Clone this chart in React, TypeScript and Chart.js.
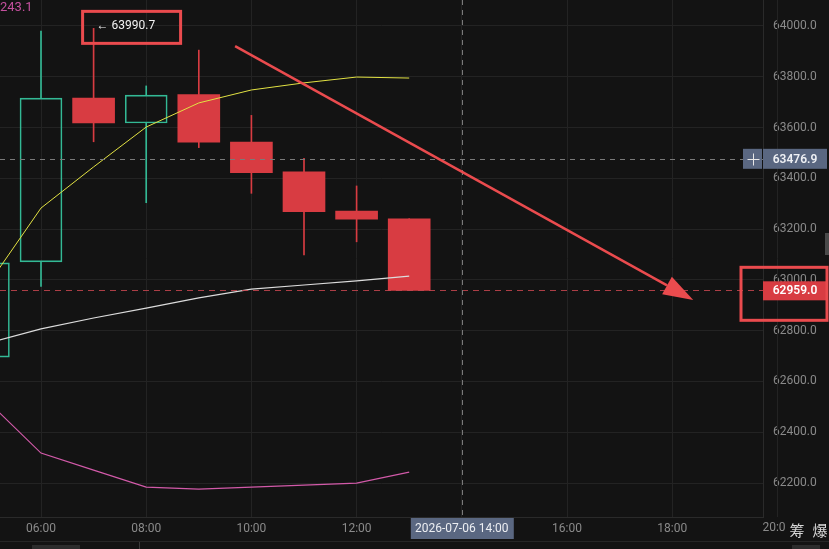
import React, { useEffect, useRef } from "react";
import { Chart, registerables } from "chart.js";

Chart.register(...registerables);

// ---- data ----
const hours = [5, 6, 7, 8, 9, 10, 11, 12, 13];
const opens = [62696, 63071, 63716, 63618, 63730, 63543, 63426, 63271, 63241];
const highs = [63090, 63980, 63990.7, 63764, 63905, 63648, 63479, 63370, 63241];
const lows = [62640, 62974, 63544, 63304, 63521, 63341, 63098, 63150, 62959];
const closes = [63067, 63716, 63618, 63728, 63542, 63422, 63269, 63239, 62959];
const maYellow = [62984, 63283, 63445, 63602, 63697, 63748, 63776, 63799, 63795];
const maWhite = [62752, 62807, 62850, 62889, 62929, 62964, 62980, 62996, 63015];
const maPink = [62519, 62318, 62251, 62184, 62176, 62184, 62192, 62200, 62243.1];
const xTickHours = [6, 8, 10, 12, 14, 16, 18, 20];
const yTicks = [62200, 62400, 62600, 62800, 63000, 63200, 63400, 63600, 63800, 64000];
const crosshairHour = 14;
const crosshairPrice = 63476.9;
const crosshairDate = "2026-07-06 14:00";
const lastPrice = 62959.0;
const highLabel = 63990.7;
const highHour = 7;
const arrowStart = [9.69, 63921];
const arrowEnd = [18.4, 62921];
const topLeftLabel = "243.1";
const cornerLabels = ["筹", "爆"];
const xRange = [5.2205, 19.7262];
const yRange = [62066.2, 64102.4];

// ---- styles ----
const BG = "#131313";
const GRID = "#232323";
const TICK = "#8a8a8a";
const UP = "#33b995";
const DOWN = "#d83c42";
const MARK = "#ea4b4e";
const BOX = "#5a6781";
const FONT = "Roboto, 'Noto Sans', sans-serif";

const fmtHour = (h: number) => String(h).padStart(2, "0") + ":00";

export default function App() {
  const ref = useRef<HTMLCanvasElement | null>(null);

  useEffect(() => {
    document.body.style.margin = "0";
    document.body.style.background = BG;
    const canvas = ref.current!;
    const up = closes.map((c, i) => c >= opens[i]);
    const candleColor = up.map((u) => (u ? UP : DOWN));

    const wickUpper = hours.map((h, i) => ({ x: h, y: [Math.max(opens[i], closes[i]), highs[i]] }));
    const wickLower = hours.map((h, i) => ({ x: h, y: [lows[i], Math.min(opens[i], closes[i])] }));
    const bodies = hours.map((h, i) => ({ x: h, y: [opens[i], closes[i]] }));
    const line = (arr: number[]) => hours.map((h, i) => ({ x: h, y: arr[i] }));

    const overlay = {
      id: "overlay",
      beforeDraw(chart: any) {
        const c = chart.ctx;
        c.save();
        c.fillStyle = BG;
        c.fillRect(0, 0, chart.width, chart.height);
        c.restore();
      },
      afterDatasetsDraw(chart: any) {
        const c = chart.ctx;
        const xs = chart.scales.x;
        const ys = chart.scales.y;
        const area = chart.chartArea;
        c.save();
        // extra gridline beyond the plot (20:00)
        xTickHours.filter((h) => h > xRange[1]).forEach((h) => {
          const px = Math.round(xs.getPixelForValue(h)) + 0.5;
          c.strokeStyle = GRID;
          c.lineWidth = 1;
          c.beginPath();
          c.moveTo(px, 0);
          c.lineTo(px, area.bottom);
          c.stroke();
        });
        // last price dashed line
        const yc = Math.round(ys.getPixelForValue(lastPrice)) + 0.5;
        c.setLineDash([6, 5]);
        c.strokeStyle = "rgba(200,70,80,0.85)";
        c.lineWidth = 1;
        c.beginPath();
        c.moveTo(0, yc);
        c.lineTo(area.right, yc);
        c.stroke();
        // crosshair
        const yh = Math.round(ys.getPixelForValue(crosshairPrice)) + 0.5;
        const xh = Math.round(xs.getPixelForValue(crosshairHour)) + 0.5;
        c.strokeStyle = "#7a7a7a";
        c.setLineDash([5, 5]);
        c.beginPath();
        c.moveTo(0, yh);
        c.lineTo(area.right, yh);
        c.moveTo(xh, 0);
        c.lineTo(xh, area.bottom);
        c.stroke();
        c.setLineDash([]);

        // top-left indicator value
        c.fillStyle = "#c4509e";
        c.font = `13px ${FONT}`;
        c.textAlign = "left";
        c.textBaseline = "middle";
        c.fillText(topLeftLabel, 0, 8);

        // high label
        const hx = xs.getPixelForValue(highHour) + 3;
        const hy = ys.getPixelForValue(highLabel) - 2;
        c.fillStyle = "#f2f2f2";
        c.font = `12px ${FONT}`;
        c.fillText("← " + highLabel.toFixed(1), hx, hy);
        c.strokeStyle = MARK;
        c.lineWidth = 3;
        c.strokeRect(hx - 14, hy - 15, 98, 32);

        // arrow
        const ax1 = xs.getPixelForValue(arrowStart[0]);
        const ay1 = ys.getPixelForValue(arrowStart[1]);
        const ax2 = xs.getPixelForValue(arrowEnd[0]);
        const ay2 = ys.getPixelForValue(arrowEnd[1]);
        const ang = Math.atan2(ay2 - ay1, ax2 - ax1);
        const hl = 30, hw = 10;
        const bx = ax2 - hl * Math.cos(ang);
        const by = ay2 - hl * Math.sin(ang);
        c.strokeStyle = MARK;
        c.lineWidth = 2.5;
        c.beginPath();
        c.moveTo(ax1, ay1);
        c.lineTo(bx, by);
        c.stroke();
        c.fillStyle = MARK;
        c.beginPath();
        c.moveTo(ax2, ay2);
        c.lineTo(bx + hw * Math.sin(ang), by - hw * Math.cos(ang));
        c.lineTo(bx - hw * Math.sin(ang), by + hw * Math.cos(ang));
        c.closePath();
        c.fill();
        c.restore();
      },
      afterDraw(chart: any) {
        const c = chart.ctx;
        const xs = chart.scales.x;
        const ys = chart.scales.y;
        const area = chart.chartArea;
        const W = chart.width;
        c.save();
        c.textBaseline = "middle";
        // extra x labels beyond plot
        c.fillStyle = TICK;
        c.font = `12px ${FONT}`;
        c.textAlign = "center";
        xTickHours.filter((h) => h > xRange[1]).forEach((h) => {
          c.fillText(fmtHour(h), xs.getPixelForValue(h), area.bottom + 11);
        });
        // crosshair price box
        const yh = ys.getPixelForValue(crosshairPrice);
        c.fillStyle = BOX;
        c.fillRect(area.right - 20, yh - 10, 19, 20);
        c.fillRect(area.right, yh - 10, 64, 20);
        c.strokeStyle = "#e8e8e8";
        c.lineWidth = 1;
        const pcx = Math.round(area.right - 10.5) + 0.5;
        const pcy = Math.round(yh) + 0.5;
        c.beginPath();
        c.moveTo(pcx - 6, pcy);
        c.lineTo(pcx + 6, pcy);
        c.moveTo(pcx, pcy - 6);
        c.lineTo(pcx, pcy + 6);
        c.stroke();
        c.fillStyle = "#eef0f4";
        c.font = `600 12px ${FONT}`;
        c.fillText(crosshairPrice.toFixed(1), area.right + 32, yh + 1);
        // last price box
        const yc = ys.getPixelForValue(lastPrice);
        c.fillStyle = DOWN;
        c.fillRect(area.right, yc - 9, 64, 19);
        c.fillStyle = "#ffffff";
        c.fillText(lastPrice.toFixed(1), area.right + 32, yc + 1);
        c.strokeStyle = MARK;
        c.lineWidth = 3;
        c.strokeRect(area.right - 22, yc - 23, 86, 53);
        // crosshair date box
        const xh = xs.getPixelForValue(crosshairHour);
        c.fillStyle = BOX;
        c.fillRect(xh - 51, area.bottom + 1, 103, 21);
        c.fillStyle = "#eceef2";
        c.font = `12px ${FONT}`;
        c.fillText(crosshairDate, xh, area.bottom + 12);
        // corner labels
        c.fillStyle = BG;
        c.fillRect(786, area.bottom + 1, W - 786, 23);
        c.fillStyle = "#d8d8d8";
        c.font = `15px 'Noto Sans CJK SC', sans-serif`;
        cornerLabels.forEach((t, i) => c.fillText(t, 797 + i * 23, area.bottom + 13));
        // bottom strip
        c.fillStyle = "#262626";
        c.fillRect(0, 541, W, 1);
        c.fillStyle = "#2c2c2c";
        c.fillRect(32, 545, 48, 4);
        c.fillRect(792, 545, 28, 4);
        c.fillStyle = "#3a3a3a";
        c.fillRect(139, 542, 1, 7);
        // right edge tab
        c.fillStyle = "#4a4a4a";
        c.fillRect(825, 233, 4, 22);
        c.restore();
      },
    };

    const chart = new Chart(canvas, {
      type: "bar",
      data: {
        datasets: [
          {
            type: "line",
            data: line(maYellow),
            borderColor: "#e2e243",
            borderWidth: 1,
            pointRadius: 0,
            tension: 0,
            order: 0,
          } as any,
          {
            type: "line",
            data: line(maWhite),
            borderColor: "#dcdcdc",
            borderWidth: 1.2,
            pointRadius: 0,
            tension: 0,
            order: 0,
          } as any,
          {
            type: "line",
            data: line(maPink),
            borderColor: "#d25aa9",
            borderWidth: 1.2,
            pointRadius: 0,
            tension: 0,
            order: 0,
          } as any,
          {
            data: bodies,
            backgroundColor: up.map((u) => (u ? "rgba(0,0,0,0)" : DOWN)),
            borderColor: candleColor,
            borderWidth: up.map((u) => (u ? 1 : 0)),
            borderSkipped: false,
            barThickness: 42,
            grouped: false,
            order: 1,
          } as any,
          {
            data: wickUpper,
            backgroundColor: candleColor,
            borderWidth: 0,
            barThickness: 1,
            grouped: false,
            order: 2,
          } as any,
          {
            data: wickLower,
            backgroundColor: candleColor,
            borderWidth: 0,
            barThickness: 1,
            grouped: false,
            order: 2,
          } as any,
        ],
      },
      options: {
        responsive: false,
        animation: false,
        devicePixelRatio: 1,
        layout: { padding: 0 },
        plugins: { legend: { display: false }, tooltip: { enabled: false } },
        scales: {
          x: {
            type: "linear",
            position: "bottom",
            min: xRange[0],
            max: xRange[1],
            offset: false,
            grid: { color: GRID, drawTicks: false, offset: false },
            border: { display: true, color: "#2a2a2a" },
            afterBuildTicks: (s: any) => {
              s.ticks = xTickHours.filter((h) => h >= xRange[0] && h <= xRange[1]).map((value) => ({ value }));
            },
            ticks: {
              color: TICK,
              font: { size: 12, family: FONT },
              padding: 5,
              maxRotation: 0,
              autoSkip: false,
              callback: (v: any) => fmtHour(Number(v)),
            },
            afterFit: (s: any) => {
              s.height = 32;
              s.paddingLeft = 0;
              s.paddingRight = 0;
            },
          },
          y: {
            type: "linear",
            position: "right",
            min: yRange[0],
            max: yRange[1],
            beginAtZero: false,
            grid: { color: GRID, drawTicks: false },
            border: { display: true, color: "#2a2a2a" },
            afterBuildTicks: (s: any) => {
              s.ticks = yTicks.map((value) => ({ value }));
            },
            ticks: {
              color: TICK,
              font: { size: 12, family: FONT },
              padding: 10,
              callback: (v: any) => Number(v).toFixed(1),
            },
            afterFit: (s: any) => {
              s.width = 66;
              s.paddingTop = 0;
              s.paddingBottom = 0;
            },
          },
        },
      } as any,
      plugins: [overlay],
    });
    return () => chart.destroy();
  }, []);

  return (
    <div style={{ width: 829, height: 549, background: BG }}>
      <canvas ref={ref} width={829} height={549} style={{ display: "block" }} />
    </div>
  );
}
